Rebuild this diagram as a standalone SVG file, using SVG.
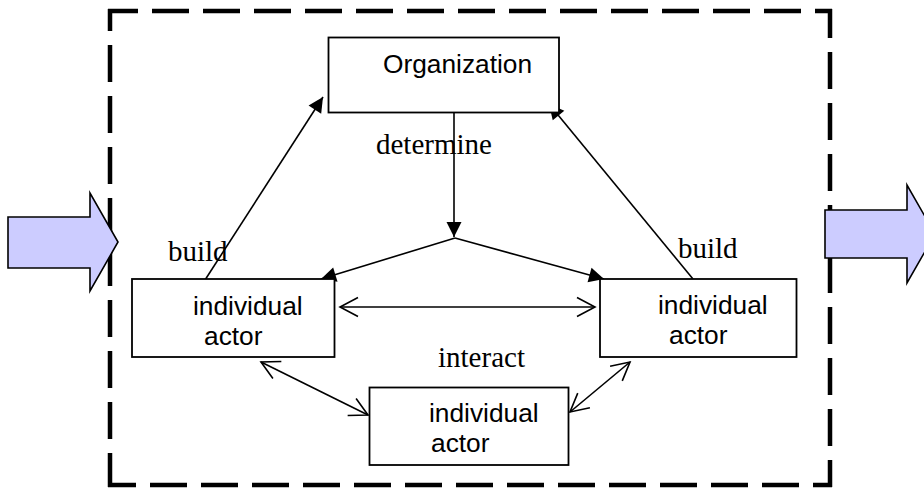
<svg xmlns="http://www.w3.org/2000/svg" width="924" height="489" viewBox="0 0 924 489">
<style>
.box{fill:#fff;stroke:#000;stroke-width:1.8}
.sans{font-family:"Liberation Sans",Arial,sans-serif;font-size:26.3px;fill:#000}
.serif{font-family:"Liberation Serif","Times New Roman",serif;font-size:29px;fill:#000}
.ln{stroke:#000;stroke-width:1.6;fill:none}
.dash{stroke:#000;stroke-width:4.5;fill:none;stroke-dasharray:37 14}
.big{fill:#ccccff;stroke:#000;stroke-width:1.6}
</style>
<defs>
<marker id="af" markerWidth="16" markerHeight="16" refX="15" refY="8" orient="auto" markerUnits="userSpaceOnUse" overflow="visible"><path d="M0,0.5 L15,8 L0,15.5 z" fill="#000"/></marker>
<marker id="ao" markerWidth="20" markerHeight="20" refX="18" refY="9.5" orient="auto-start-reverse" markerUnits="userSpaceOnUse" overflow="visible"><path d="M0,0 L18,9.5 L0,19" fill="none" stroke="#000" stroke-width="1.6"/></marker>
</defs>
<g id="frame">
<line class="dash" x1="108" y1="11" x2="832" y2="11" stroke-dashoffset="7"/>
<line class="dash" x1="830" y1="9" x2="830" y2="487" stroke-dashoffset="8"/>
<line class="dash" x1="832" y1="485" x2="108" y2="485" stroke-dashoffset="18"/>
<line class="dash" x1="110" y1="487" x2="110" y2="9" stroke-dashoffset="3"/>
</g>
<g id="input-arrow"><path class="big" d="M8,217 H90 V193 L118,242 L90,291 V268 H8 Z"/></g>
<g id="output-arrow"><path class="big" d="M825,210 H907 V185 L935,234 L907,283 V258 H825 Z"/></g>
<g id="connectors">
<line class="ln" x1="454" y1="113" x2="454" y2="237" marker-end="url(#af)"/>
<line class="ln" x1="455" y1="238" x2="321" y2="279" marker-end="url(#af)"/>
<line class="ln" x1="455" y1="238" x2="604" y2="279" marker-end="url(#af)"/>
<line class="ln" x1="205" y1="280" x2="323" y2="97" marker-end="url(#af)"/>
<line class="ln" x1="693" y1="279" x2="549" y2="104" marker-end="url(#af)"/>
<line class="ln" x1="340" y1="307" x2="595" y2="307" marker-start="url(#ao)" marker-end="url(#ao)"/>
<line class="ln" x1="261" y1="362" x2="368" y2="415" marker-start="url(#ao)" marker-end="url(#ao)"/>
<line class="ln" x1="630" y1="362" x2="570" y2="412" marker-start="url(#ao)" marker-end="url(#ao)"/>
</g>
<g id="organization"><rect class="box" x="328.5" y="37.5" width="230.5" height="75"/><text class="sans" x="383" y="73">Organization</text></g>
<g id="actor-left"><rect class="box" x="132" y="279" width="202.5" height="78"/><text class="sans" x="193" y="315">individual</text><text class="sans" x="204" y="345">actor</text></g>
<g id="actor-right"><rect class="box" x="600" y="279" width="196.5" height="78"/><text class="sans" x="658" y="314">individual</text><text class="sans" x="669" y="344">actor</text></g>
<g id="actor-bottom"><rect class="box" x="369.5" y="387.5" width="199" height="77.5"/><text class="sans" x="429" y="422">individual</text><text class="sans" x="431" y="452">actor</text></g>
<g id="labels">
<text class="serif" x="376" y="154">determine</text>
<text class="serif" x="168" y="261">build</text>
<text class="serif" x="678" y="258">build</text>
<text class="serif" x="438" y="367">interact</text>
</g>
</svg>
